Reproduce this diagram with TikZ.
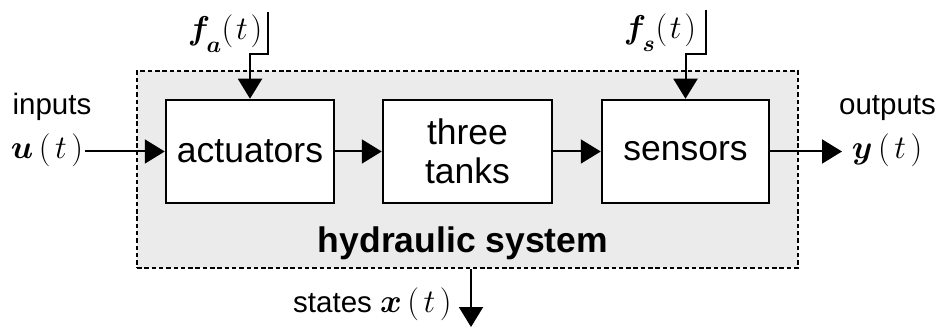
\RequirePackage{fix-cm}
\documentclass[tikz,border=0pt]{standalone}
\usepackage{amsmath,bm}
\usepackage{fontspec}
\setmainfont{Liberation Sans}
\usetikzlibrary{arrows.meta}

% lowered bold subscript
\newcommand{\lowsub}[1]{\lower8pt\hbox{$\scriptstyle\bm{#1}$}}
% argument "(t)" with a little air inside the parentheses
\newcommand{\oft}{\,(\mkern2.5mu t\mkern2.5mu)}

\begin{document}
\begin{tikzpicture}[x=1pt,y=-1pt,
  blk/.style={draw, line width=2.5pt, fill=white, minimum width=168pt,
    minimum height=103pt, inner sep=0pt, align=center,
    font=\fontsize{35.5}{39}\selectfont},
  arr/.style={line width=2pt, -{Triangle[length=20pt,width=24pt]}},
  lbl/.style={inner sep=0pt, anchor=base, font=\fontsize{29.5}{34}\selectfont},
  mth/.style={inner sep=2pt, anchor=base, font=\fontsize{33}{38}\selectfont}]

\useasboundingbox (0,0) rectangle (941,328);

% system boundary
\node[draw, line width=2.3pt, dash pattern=on 4.5pt off 2.8pt, fill=black!8,
  minimum width=661pt, minimum height=197pt, inner sep=0pt] (sys) at (467.5,169.5) {};
\node[inner sep=0pt, anchor=base, font=\bfseries\fontsize{35.5}{40}\selectfont] (hs) at (463,253) {hydraulic system};

% blocks
\node[blk] (act) at (250,151.5) {actuators};
\node[blk, minimum width=169pt] (tank) at (467.5,151.5) {three\\tanks};
\node[blk, minimum width=167pt] (sen) at (685.5,151.5) {sensors};

% signal labels
\node[lbl] (in) at (52,115) {inputs};
\node[mth] (u) at (47,158.5) {$\bm{u}\oft$};
\node[lbl] (out) at (887.5,115) {outputs};
\node[mth] (y) at (887,158.5) {$\bm{y}\oft$};
\node[mth] (fa) at (225,39.5) {$\bm{f}_{\lowsub{a}}(\mkern1.5mu t\mkern1.5mu)$};
\node[mth] (fs) at (660,38.5) {$\bm{f}_{\lowsub{s}}(\mkern1.5mu t\mkern1.5mu)$};
\node[lbl, anchor=base west] (st) at (293,312) {states {\fontsize{33}{38}\selectfont$\bm{x}\oft$}};

% free ends
\coordinate (fa0) at (268,12);
\coordinate (fs0) at (706,10);
\coordinate (yt) at (842,151.5);
\coordinate (xs) at (471,327);

% connectors
\draw[arr] (u.east |- act.west) -- (act.west);
\draw[arr] (act) -- (tank);
\draw[arr] (tank) -- (sen);
\draw[arr] (sen.east) -- (yt);
\draw[arr] (fa0) -- ++(0,42) -| (act.north);
\draw[arr] (fs0) -- ++(0,44) -| (sen.north);
\draw[arr] (sys.south -| xs) -- (xs);
\end{tikzpicture}
\end{document}
